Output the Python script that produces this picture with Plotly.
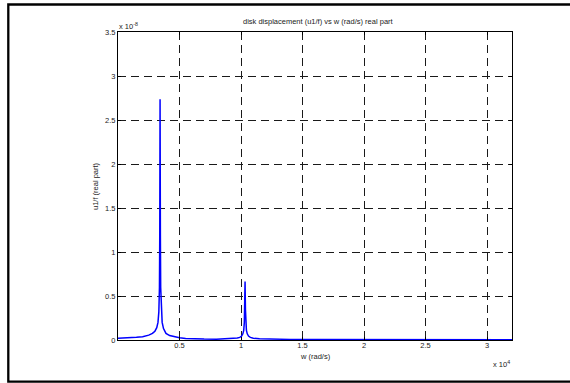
import plotly.graph_objects as go

# frequency w (rad/s)
w = [0, 500, 1000, 1500, 2000, 2500, 2800, 3000, 3150, 3250, 3320, 3370, 3395, 3410,
     3420, 3430, 3445, 3470, 3520, 3590, 3700, 3900, 4200, 4600, 5000, 5500, 6000,
     7000, 8000, 9000, 9400, 9700, 9900, 10050, 10150, 10220, 10270, 10300, 10320,
     10330, 10340, 10360, 10390, 10440, 10510, 10610, 10760, 11000, 11500, 12500,
     14000, 16000, 20000, 25000, 32030]
# u1/f real part, in units of 1e-8
u = [0.020, 0.021, 0.024, 0.030, 0.038, 0.055, 0.075, 0.100, 0.140, 0.200, 0.320,
     0.600, 1.200, 2.000, 2.735, 2.000, 1.200, 0.600, 0.320, 0.200, 0.130, 0.075,
     0.050, 0.035, 0.025, 0.018, 0.014, 0.010, 0.009, 0.012, 0.016, 0.022, 0.030,
     0.045, 0.070, 0.110, 0.200, 0.350, 0.550, 0.665, 0.550, 0.350, 0.200, 0.110,
     0.070, 0.045, 0.030, 0.020, 0.013, 0.009, 0.007, 0.006, 0.004, 0.003, 0.002]

x_tickvals = [5000, 10000, 15000, 20000, 25000, 30000]
x_ticktext = ["0.5", "1", "1.5", "2", "2.5", "3"]
y_tickvals = [0, 0.5, 1, 1.5, 2, 2.5, 3, 3.5]
y_ticktext = ["0", "0.5", "1", "1.5", "2", "2.5", "3", "3.5"]

FONT = "Liberation Sans, Arial, sans-serif"
TXT = "#222222"

fig = go.Figure()
fig.add_trace(go.Scatter(x=w, y=u, mode="lines",
                         line=dict(color="#0000ff", width=1.5),
                         showlegend=False, cliponaxis=True))

L, R, T, B = 118, 58, 32, 43
W, H = 570, 383
pw, ph = W - L - R, H - T - B

def px2x(px):
    return (px - L) / pw

def py2y(py):
    return (H - B - py) / ph

axis_common = dict(showline=True, linecolor="black", linewidth=1, mirror="ticks",
                   ticks="inside", ticklen=3, tickcolor="black",
                   showgrid=True, gridcolor="#1a1a1a", gridwidth=1, griddash="8px,5px",
                   zeroline=False, tickfont=dict(family=FONT, size=7.5, color=TXT))

fig.update_layout(
    width=W, height=H,
    margin=dict(l=L, r=R, t=T, b=B),
    paper_bgcolor="white", plot_bgcolor="white",
    xaxis=dict(range=[0, 32030], tickvals=x_tickvals, ticktext=x_ticktext,
               ticklabelstandoff=-2, **axis_common),
    yaxis=dict(range=[0, 3.5], tickvals=y_tickvals, ticktext=y_ticktext, **axis_common),
    font=dict(family=FONT, size=8, color=TXT),
)

ann = dict(xref="paper", yref="paper", showarrow=False, font=dict(family=FONT, size=7.5, color=TXT))
fig.add_annotation(x=0.51, y=py2y(22), text="disk displacement (u1/f) vs w (rad/s) real part",
                   xanchor="center", yanchor="middle", **ann)
fig.add_annotation(x=0.5, y=py2y(356), text="w (rad/s)", xanchor="center", yanchor="middle", **ann)
fig.add_annotation(x=px2x(95), y=0.5, text="u1/f (real part)", textangle=-90,
                   xanchor="center", yanchor="middle", **ann)
fig.add_annotation(x=px2x(117), y=py2y(26), text="x 10<sup>-8</sup>", xanchor="left",
                   yanchor="middle", **ann)
fig.add_annotation(x=1.0, y=py2y(364), text="x 10<sup>4</sup>", xanchor="right",
                   yanchor="middle", **ann)

# figure border (left, top, bottom)
fig.add_shape(type="path", xref="paper", yref="paper",
              path=f"M {px2x(575)},{py2y(4.5)} L {px2x(8.3)},{py2y(4.5)} L {px2x(8.3)},{py2y(381.7)} L {px2x(575)},{py2y(381.7)}",
              line=dict(color="black", width=2.3))

fig.write_html("out.html")
